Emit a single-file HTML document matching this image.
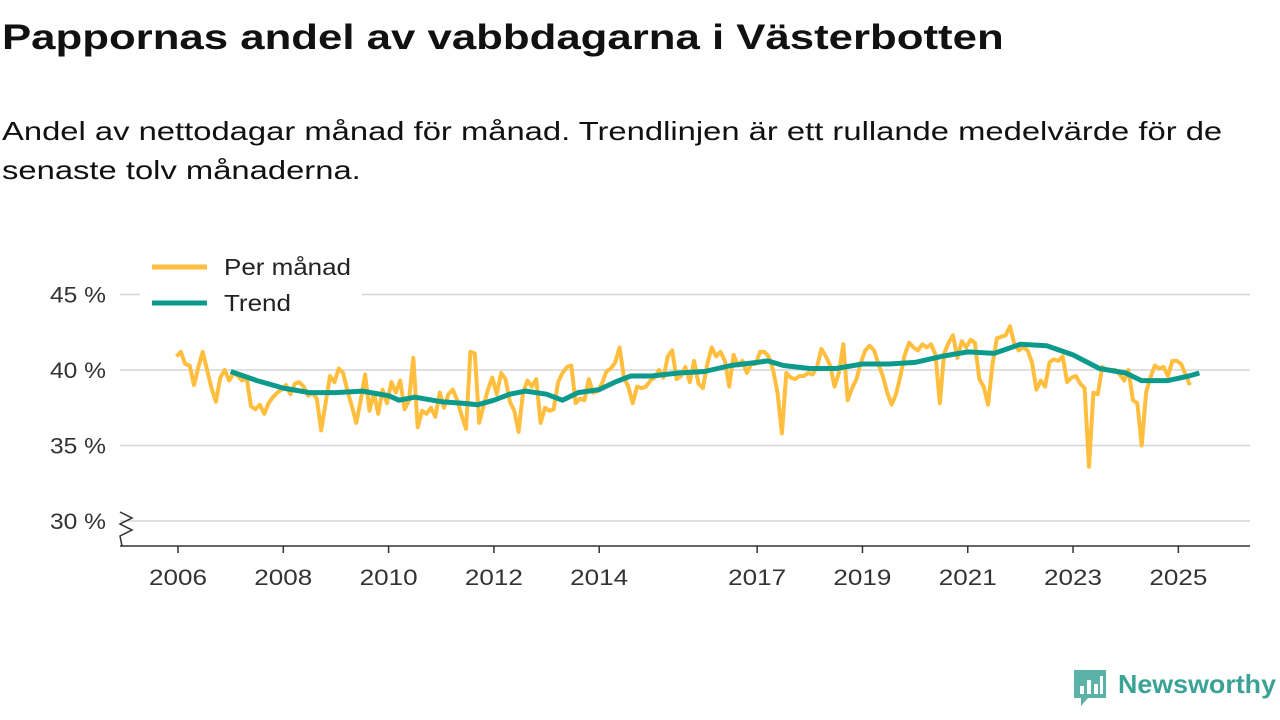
<!DOCTYPE html>
<html><head><meta charset="utf-8"><style>
body{margin:0;width:1280px;height:720px;background:#fff;font-family:"Liberation Sans",sans-serif;overflow:hidden;position:relative}
h1{position:absolute;left:2px;top:18px;margin:0;font-size:35px;font-weight:bold;color:#111;transform:scaleX(1.25);transform-origin:0 0;white-space:nowrap}
.sub{position:absolute;left:2px;top:112px;margin:0;font-size:26px;line-height:39px;color:#111;transform:scaleX(1.26);transform-origin:0 0;white-space:nowrap}
svg{position:absolute;left:0;top:0}
</style></head><body>
<h1>Pappornas andel av vabbdagarna i Västerbotten</h1>
<p class="sub">Andel av nettodagar månad för månad. Trendlinjen är ett rullande medelvärde för de<br>senaste tolv månaderna.</p>
<svg id="chart" width="1280" height="720"></svg>
<script>
const monthly=[
40.9,41.2,40.4,40.3,39.0,40.2,41.2,40.0,38.8,37.9,39.5,40.0,
39.3,39.8,39.6,39.3,39.5,37.6,37.4,37.7,37.1,37.8,38.2,38.5,
38.7,39.0,38.4,39.1,39.2,38.9,38.3,38.5,38.1,36.0,37.8,39.6,
39.2,40.1,39.8,38.6,37.6,36.5,38.0,39.7,37.3,38.5,37.1,38.7,
37.8,39.2,38.5,39.3,37.4,38.0,40.8,36.2,37.3,37.1,37.5,36.9,
38.5,37.5,38.4,38.7,38.0,37.0,36.1,41.2,41.1,36.5,37.6,38.7,
39.5,38.4,39.8,39.4,37.9,37.3,35.9,38.5,39.3,38.9,39.4,36.5,
37.5,37.3,37.4,39.2,39.8,40.2,40.3,37.8,38.1,38.0,39.4,38.5,
38.6,39.1,39.9,40.1,40.5,41.5,39.5,38.9,37.8,38.9,38.8,38.9,
39.3,39.5,40.0,39.5,40.9,41.3,39.4,39.6,40.2,39.2,40.6,39.1,
38.8,40.4,41.5,40.9,41.2,40.6,38.9,41.0,40.3,40.6,39.8,40.4,
40.4,41.2,41.2,40.9,40.0,38.5,35.8,39.8,39.5,39.4,39.6,39.6,
39.8,39.7,40.2,41.4,40.9,40.3,38.9,39.8,41.7,38.0,38.8,39.4,
40.5,41.3,41.6,41.3,40.4,39.6,38.5,37.7,38.4,39.6,41.0,41.8,
41.5,41.3,41.7,41.5,41.7,41.0,37.8,41.1,41.8,42.3,40.8,41.9,
41.5,42.0,41.8,39.4,38.9,37.7,40.4,42.1,42.2,42.3,42.9,41.7,
41.3,41.5,41.3,40.5,38.7,39.3,38.9,40.5,40.7,40.6,40.9,39.2,
39.5,39.6,39.1,38.8,33.6,38.5,38.4,40.2,40.0,40.0,40.0,39.7,
39.3,40.0,38.0,37.8,35.0,38.5,39.5,40.3,40.1,40.2,39.6,40.6,
40.6,40.4,39.7,39.0];
const trendDates=[2007.0,2007.5,2008.0,2008.5,2009.0,2009.5,2010.0,2010.2,2010.5,2011.0,2011.4,2011.7,2012.0,2012.3,2012.6,2013.0,2013.3,2013.6,2014.0,2014.3,2014.6,2015.0,2015.5,2016.0,2016.5,2017.0,2017.2,2017.5,2018.0,2018.5,2019.0,2019.5,2020.0,2020.5,2021.0,2021.5,2022.0,2022.5,2023.0,2023.5,2024.0,2024.3,2024.8,2025.2,2025.4];
const trendValues=[39.9,39.3,38.8,38.5,38.5,38.6,38.3,38.0,38.2,37.9,37.8,37.7,38.0,38.4,38.6,38.4,38.0,38.5,38.7,39.2,39.6,39.6,39.8,39.9,40.3,40.5,40.6,40.3,40.1,40.1,40.4,40.4,40.5,40.9,41.2,41.1,41.7,41.6,41.0,40.1,39.8,39.3,39.3,39.6,39.8];
const yTicks=[30,35,40,45];
const xTicks=[2006,2008,2010,2012,2014,2017,2019,2021,2023,2025];
const NS="http://www.w3.org/2000/svg",svg=document.getElementById('chart');
const X=t=>178+(t-2006)*52.65, Y=v=>370-(v-40)*15.1;
function el(tag,a,p){const e=document.createElementNS(NS,tag);for(const k in a)e.setAttribute(k,a[k]);(p||svg).appendChild(e);return e;}
yTicks.forEach(v=>{
 const g=el('line',{x1:120,x2:1250,y1:Y(v),y2:Y(v),stroke:'#d6d6d6','stroke-width':1.5});
 
 
 const t=el('text',{x:50,y:Y(v)+8,'font-size':22,fill:'#333',textLength:56,lengthAdjust:'spacingAndGlyphs'});
 t.textContent=v+' %';
 
 
});
const ax=el('line',{x1:120,x2:1250,y1:546,y2:546,stroke:'#333','stroke-width':1.5});


const br=el('polyline',{points:'120,512 132,518 120,524 132,530 120,536 122,546',fill:'none',stroke:'#333','stroke-width':1.5});


xTicks.forEach(yr=>{
 el('line',{x1:X(yr),x2:X(yr),y1:546,y2:553,stroke:'#333','stroke-width':1.5});
 const t=el('text',{x:X(yr)-29,y:585,'font-size':22,fill:'#333',textLength:58,lengthAdjust:'spacingAndGlyphs'});
 t.textContent=yr;
 
 
});
const mp=monthly.map((v,i)=>X(2006+i/12-0.03).toFixed(1)+','+Y(v).toFixed(1)).join(' ');
const ml=el('polyline',{points:mp,fill:'none',stroke:'#ffbe3d','stroke-width':4,'stroke-linejoin':'round'});


const tp=trendValues.map((v,i)=>X(trendDates[i]).toFixed(1)+','+Y(v).toFixed(1)).join(' ');
const tl=el('polyline',{points:tp,fill:'none',stroke:'#0c9a8c','stroke-width':5,'stroke-linejoin':'round'});


const lg=el('rect',{x:140,y:250,width:222,height:72,fill:'#fff'});


[['Per månad','#ffbe3d',267,127],['Trend','#0c9a8c',303,67]].forEach(([n,c,y,w])=>{
 el('line',{x1:152,x2:207,y1:y,y2:y,stroke:c,'stroke-width':5});
 const t=el('text',{x:224,y:y+8,'font-size':23,fill:'#222',textLength:w,lengthAdjust:'spacingAndGlyphs'});
 t.textContent=n;
 
 
});
const lo=el('g',{});


el('path',{d:'M1074,670 h32 v28 h-18 l-7,8 v-8 h-7 z',fill:'#5bb3a8'},lo);
[[1080,686,4,8],[1087,680,4,14],[1094,684,4,10],[1100,676,3,18]].forEach(r=>el('rect',{x:r[0],y:r[1],width:r[2],height:r[3],fill:'#fff'},lo));
const lt=el('text',{x:1118,y:693,'font-size':26,'font-weight':'bold',fill:'#3aa396',textLength:158,lengthAdjust:'spacingAndGlyphs'},lo);
lt.textContent='Newsworthy';
</script>
</body></html>
